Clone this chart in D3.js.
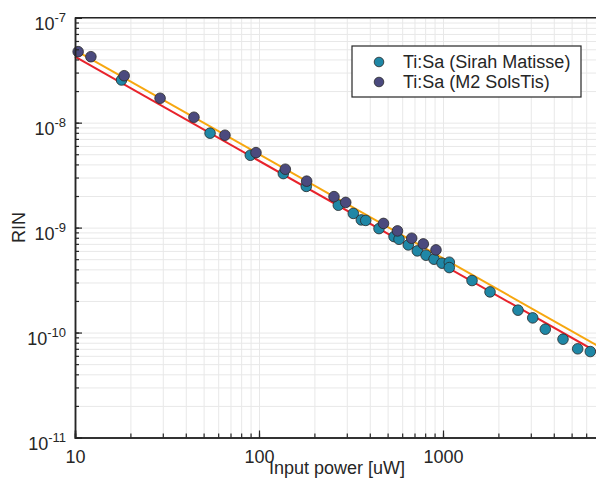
<!DOCTYPE html>
<html>
<head>
<meta charset="utf-8">
<script src="https://cdn.jsdelivr.net/npm/d3@7"></script>
<style>
  body { margin: 0; background: #fff; }
  svg { display: block; font-family: "Liberation Sans", Arial, sans-serif; }
</style>
</head>
<body>
<div id="chart"></div>
<script>
// Ti:Sa (Sirah Matisse)
const matissePower = [17.9, 54.2, 89.7, 135.6, 180.7, 269.8, 325.5, 359.8, 380.2, 448.9, 541.8, 576.7, 647.8,
    725.1, 808.5, 893.4, 987.6, 1082, 1082, 1438, 1801, 2556, 3073, 3597, 4489, 5395, 6318]
const matisseRin = [2.55e-8, 7.94e-9, 4.89e-9, 3.27e-9, 2.47e-9, 1.634e-9, 1.365e-9, 1.184e-9, 1.171e-9, 9.78e-10,
    8.21e-10, 7.74e-10, 6.84e-10, 6.00e-10, 5.46e-10, 5.00e-10, 4.58e-10, 4.68e-10, 4.16e-10, 3.13e-10,
    2.44e-10, 1.634e-10, 1.38e-10, 1.077e-10, 8.65e-11, 7.00e-11, 6.59e-11]

// Ti:Sa (M2 SolsTis)
const solstisPower = [10.4, 12.2, 18.5, 29.0, 44.3, 65.3, 96.3, 139.0, 181.6, 255.6, 296, 474.9, 565.7, 675.9, 781.6, 916]
const solstisRin = [4.75e-8, 4.25e-8, 2.80e-8, 1.708e-8, 1.126e-8, 7.59e-9, 5.18e-9, 3.60e-9, 2.77e-9, 1.973e-9,
    1.738e-9, 1.096e-9, 9.30e-10, 7.92e-10, 6.99e-10, 6.13e-10]

// fitted power laws (end points)
const fitPower = [10, 10000]
const fitSolstis = [4.92e-8, 5.19e-11]
const fitMatisse = [4.25e-8, 4.49e-11]

const xTicks = [10, 100, 1000]
const yTickExp = [-11, -10, -9, -8, -7]
const seriesNames = ["Ti:Sa (Sirah Matisse)", "Ti:Sa (M2 SolsTis)"]
const seriesColors = ["#1f87a6", "#4b4a7e"]

const width = 596
const height = 481
const plotLeft = 75
const plotTop = 17.7
const plotBottom = 437.5
const axisColor = "#262626"
const gridColor = "#e8e8e8"
const fontSize = 18

const x = d3.scaleLog().domain([10, 10000]).range([plotLeft, 627])
const y = d3.scaleLog().domain([1e-11, 1e-7]).range([plotBottom, plotTop])

// all the 1..9 x 10^n values inside a domain
function minorTicks(lo, hi) {
    const out = []
    for (let e = Math.floor(Math.log10(lo)); e < Math.ceil(Math.log10(hi)); e++) {
        for (let k = 1; k < 10; k++) out.push(k * Math.pow(10, e))
    }
    out.push(hi)
    return out.filter(v => v >= lo * 0.999 && v <= hi * 1.001)
}
const xMinor = minorTicks(10, 10000)
const yMinor = minorTicks(1e-11, 1e-7)

const svg = d3.select("#chart")
    .append("svg")
    .attr("width", width)
    .attr("height", height)

// Grid
svg.append("g")
    .attr("transform", `translate(0, ${plotBottom})`)
    .call(d3.axisBottom(x).tickValues(xMinor).tickSize(-(plotBottom - plotTop)).tickFormat(""))
    .call(g => g.select(".domain").remove())
    .call(g => g.selectAll("line").attr("stroke", gridColor))

svg.append("g")
    .attr("transform", `translate(${plotLeft}, 0)`)
    .call(d3.axisLeft(y).tickValues(yMinor).tickSize(-(width - plotLeft)).tickFormat(""))
    .call(g => g.select(".domain").remove())
    .call(g => g.selectAll("line").attr("stroke", gridColor))

// Fit lines
const line = d3.line().x(d => x(d[0])).y(d => y(d[1]))
svg.append("path")
    .datum(fitPower.map((p, i) => [p, fitSolstis[i]]))
    .attr("d", line)
    .attr("fill", "none")
    .attr("stroke", "#f7a70f")
    .attr("stroke-width", 2)
svg.append("path")
    .datum(fitPower.map((p, i) => [p, fitMatisse[i]]))
    .attr("d", line)
    .attr("fill", "none")
    .attr("stroke", "#e8232b")
    .attr("stroke-width", 2)

// Points
const series = [
    matissePower.map((p, i) => [p, matisseRin[i]]),
    solstisPower.map((p, i) => [p, solstisRin[i]])
]
series.forEach((pts, s) => {
    svg.append("g")
        .selectAll("circle")
        .data(pts)
        .enter()
        .append("circle")
        .attr("cx", d => x(d[0]))
        .attr("cy", d => y(d[1]))
        .attr("r", 5.3)
        .attr("fill", seriesColors[s])
        .attr("stroke", "#2a2a2a")
        .attr("stroke-width", 0.8)
})

// X axis
const axes = svg.append("g")
axes.append("g")
    .attr("transform", `translate(0, ${plotBottom})`)
    .call(d3.axisBottom(x).tickValues(xMinor).tickSize(-4).tickFormat(""))
axes.append("g")
    .attr("transform", `translate(0, ${plotBottom})`)
    .call(d3.axisBottom(x).tickValues(xTicks).tickSize(-7).tickPadding(13).tickFormat(d3.format("d")))
    .call(g => g.selectAll("text").attr("font-size", fontSize))

// Y axis
axes.append("g")
    .attr("transform", `translate(${plotLeft}, 0)`)
    .call(d3.axisLeft(y).tickValues(yMinor).tickSize(-4).tickFormat(""))
axes.append("g")
    .attr("transform", `translate(${plotLeft}, 0)`)
    .call(d3.axisLeft(y).tickValues(yTickExp.map(e => Math.pow(10, e))).tickSize(-7).tickPadding(9).tickFormat(""))
    .call(g => g.selectAll(".tick text")
        .attr("dy", null)
        .attr("y", 12)
        .each(function (d, i) {
            const t = d3.select(this)
            t.append("tspan").attr("font-size", fontSize).text("10")
            t.append("tspan").attr("font-size", 13).attr("dy", -8).text(yTickExp[i])
        }))

// Axis styling + top border
axes.selectAll(".domain").attr("stroke", axisColor).attr("stroke-width", 1.5)
axes.selectAll(".tick line").attr("stroke", axisColor).attr("stroke-width", 1.2)
axes.selectAll(".tick text").attr("fill", axisColor)
svg.append("line")
    .attr("x1", plotLeft).attr("x2", width)
    .attr("y1", plotTop).attr("y2", plotTop)
    .attr("stroke", axisColor)
    .attr("stroke-width", 1.5)

// Axis titles
svg.append("text")
    .attr("x", 337)
    .attr("y", 474)
    .attr("text-anchor", "middle")
    .attr("font-size", fontSize)
    .attr("fill", axisColor)
    .text("Input power [uW]")
svg.append("text")
    .attr("transform", `translate(25, ${(plotTop + plotBottom) / 2}) rotate(-90)`)
    .attr("text-anchor", "middle")
    .attr("font-size", fontSize)
    .attr("fill", axisColor)
    .text("RIN")

// Legend
const legend = svg.append("g").attr("transform", "translate(352, 46)")
legend.append("rect")
    .attr("width", 229)
    .attr("height", 51)
    .attr("fill", "#fff")
    .attr("stroke", "#262626")
    .attr("stroke-width", 1.2)
seriesNames.forEach((name, i) => {
    legend.append("circle")
        .attr("cx", 27)
        .attr("cy", 16 + i * 20)
        .attr("r", 4.8)
        .attr("fill", seriesColors[i])
        .attr("stroke", "#2a2a2a")
        .attr("stroke-width", 0.8)
    legend.append("text")
        .attr("x", 51)
        .attr("y", 22 + i * 20)
        .attr("font-size", fontSize)
        .attr("fill", axisColor)
        .text(name)
})
</script>
</body>
</html>
